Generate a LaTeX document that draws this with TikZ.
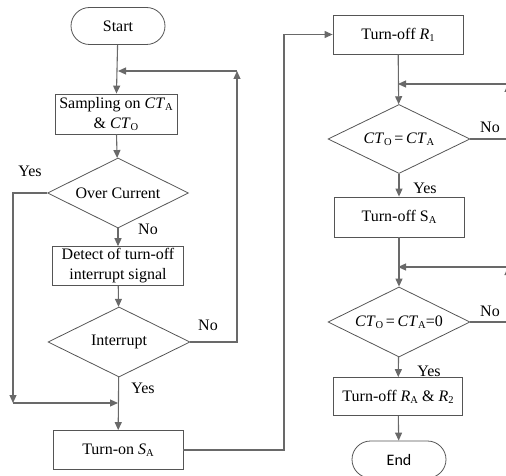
\documentclass[tikz,border=0pt]{standalone}
\usepackage{fontspec}
\setmainfont{Liberation Serif}
\newfontfamily\endfont{Carlito}
\usetikzlibrary{arrows.meta,shapes.geometric,shapes.misc}
\newcommand\sbx[1]{\raisebox{-0.3ex}{\fontsize{10.5}{10.5}\selectfont #1}}
\newcommand\itx[1]{\textit{#1}}
\definecolor{linegray}{RGB}{105,105,105}
\definecolor{boxgray}{RGB}{85,85,85}
\begin{document}
\begin{tikzpicture}[x=1pt,y=-1pt,
  every node/.style={font=\fontsize{16}{20}\selectfont, text=black},
  proc/.style={draw=boxgray, line width=0.8pt, rectangle, minimum width=130pt, minimum height=39pt, inner sep=2pt, align=center},
  term/.style={draw=boxgray, line width=0.8pt, rounded rectangle, minimum width=98pt, minimum height=37pt, inner sep=2pt},
  decide/.style={draw=boxgray, line width=0.8pt, diamond, aspect=2, minimum width=142pt, minimum height=70pt, inner sep=0pt},
  lbl/.style={inner sep=0pt},
  flow/.style={draw=linegray, line width=1.1pt, -{Triangle[length=8pt,width=7pt]}},
  plain/.style={draw=linegray, line width=1.1pt}
]
\useasboundingbox (0,0) rectangle (506,476);
\clip (0,0) rectangle (506,476);

% left column
\node[term] (start) at (118,26) {Start};
\node[proc, minimum width=122pt, minimum height=40pt] (samp) at (116,114) {Sampling on \itx{CT}\sbx{A}\\\& \itx{CT}\sbx{O}};
\node[decide, minimum width=141pt] (over) at (118,193) {Over Current};
\node[proc, minimum width=131pt, minimum height=38pt] (detect) at (118,266) {Detect of turn-off\\interrupt signal};
\node[decide] (intr) at (119,342) {Interrupt};
\node[proc] (turnon) at (118,450) {Turn-on \itx{S}\sbx{A}};

% right column
\node[proc] (r1) at (398,34.5) {Turn-off \itx{R}\sbx{1}};
\node[decide, minimum height=69pt] (eq1) at (399,139) {\itx{CT}\sbx{O}\,=\,\itx{CT}\sbx{A}};
\node[proc, minimum height=40pt] (sa) at (399,217) {Turn-off S\sbx{A}};
\node[decide] (eq2) at (399,322) {\itx{CT}\sbx{O}\,=\,\itx{CT}\sbx{A}=0};
\node[proc, minimum width=129pt, minimum height=38pt] (ra) at (398,396.5) {Turn-off \itx{R}\sbx{A} \& \itx{R}\sbx{2}};
\node[term] (end) at (399,459.5) {\endfont End};

% labels
\node[lbl] (l1) at (30,171) {Yes};
\node[lbl] (l2) at (148,229) {No};
\node[lbl] (l3) at (208,325) {No};
\node[lbl] (l4) at (143,388) {Yes};
\node[lbl] (l5) at (490,127) {No};
\node[lbl] (l6) at (425,188) {Yes};
\node[lbl] (l7) at (490,311) {No};
\node[lbl] (l8) at (429,371) {Yes};

% junction coordinates
\coordinate (j1) at (118,71);
\coordinate (c1) at (237,71);
\coordinate (j2) at (118,403);
\coordinate (c2) at (13,403);
\coordinate (c3) at (284,450);
\coordinate (c4) at (284,34.5);
\coordinate (j3) at (398,84);
\coordinate (c5) at (508,84);
\coordinate (j4) at (398,267);
\coordinate (c6) at (508,267);

% left flow
\draw[flow] (start) -- (samp);
\draw[flow] (samp) -- (over);
\draw[flow] (over) -- (detect);
\draw[flow] (detect) -- (intr);
\draw[flow] (intr) -- (turnon);
\draw[flow] (over.west) -| (c2);
\draw[flow] (c2) -- (j2);
\draw[flow] (intr.east) -| (c1);
\draw[flow] (c1) -- (j1);
\draw[plain] (turnon.east) -- (c3) -- (c4);
\draw[flow] (c4) -- (r1.west);

% right flow
\draw[flow] (r1) -- (eq1);
\draw[flow] (eq1) -- (sa);
\draw[flow] (sa) -- (eq2);
\draw[flow] (eq2) -- (ra);
\draw[flow] (ra) -- (end);
\draw[flow] (eq1.east) -| (c5);
\draw[flow] (c5) -- (j3);
\draw[flow] (eq2.east) -| (c6);
\draw[flow] (c6) -- (j4);
\end{tikzpicture}
\end{document}
